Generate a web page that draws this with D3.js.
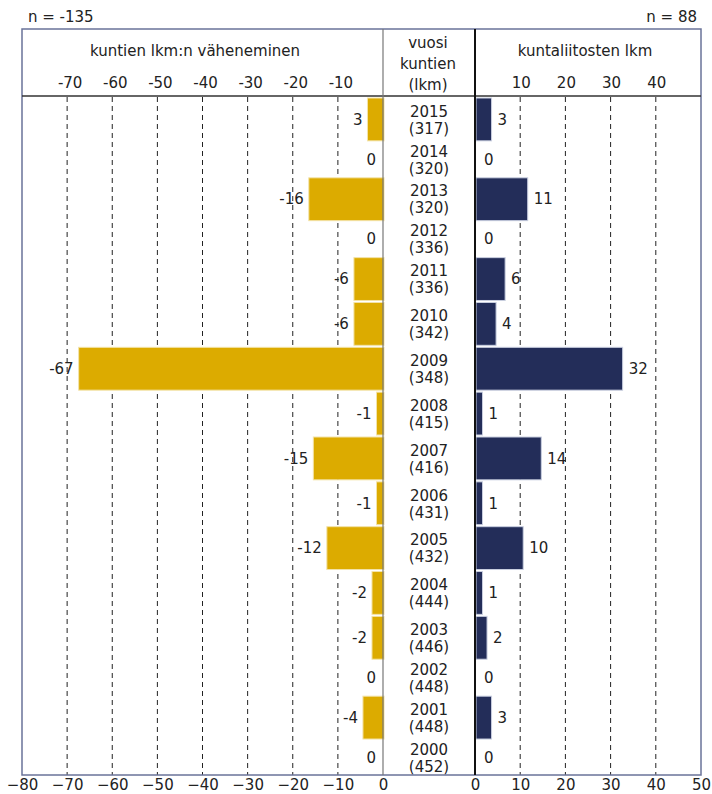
<!DOCTYPE html>
<html>
<head>
<meta charset="utf-8">
<script src="https://cdn.jsdelivr.net/npm/d3@7"></script>
<style>
  body { margin: 0; background: #fff; }
  svg text { font-family: "DejaVu Sans", "Open Sans", sans-serif; fill: #222; }
</style>
</head>
<body>
<div id="chart"></div>
<script>
// rows top to bottom
const years = [2015, 2014, 2013, 2012, 2011, 2010, 2009, 2008, 2007, 2006, 2005, 2004, 2003, 2002, 2001, 2000];
const municipalities = [317, 320, 320, 336, 336, 342, 348, 415, 416, 431, 432, 444, 446, 448, 448, 452];
const decrease = [-3, 0, -16, 0, -6, -6, -67, -1, -15, -1, -12, -2, -2, 0, -4, 0];
const decreaseLabels = ["3", "0", "-16", "0", "-6", "-6", "-67", "-1", "-15", "-1", "-12", "-2", "-2", "0", "-4", "0"];
const mergers = [3, 0, 11, 0, 6, 4, 32, 1, 14, 1, 10, 1, 2, 0, 3, 0];
const leftTicks = [-80, -70, -60, -50, -40, -30, -20, -10, 0];
const rightTicks = [0, 10, 20, 30, 40, 50];

const width = 712, height = 794;
const gold = "#dcab00", navy = "#232d59";
const frame = { left: 22, right: 701, top: 29, head: 96, bottom: 775 };
const fs = "15px";

const svg = d3.select("#chart").append("svg")
    .attr("width", width)
    .attr("height", height);

const xL = d3.scaleLinear().domain([-80, 0]).range([frame.left, 383]);
const xR = d3.scaleLinear().domain([0, 50]).range([475, frame.right]);

// rows with nothing to show are a bit shorter
const rows = years.map((y, i) => ({
    year: y, count: municipalities[i], dec: decrease[i], decLabel: decreaseLabels[i], mer: mergers[i],
    w: (decrease[i] === 0 && mergers[i] === 0) ? 0.78 : 1
}));
let acc = 0;
rows.forEach(r => { r.start = acc; acc += r.w; r.end = acc; });
const y = d3.scaleLinear().domain([0, acc]).range([frame.head + 1, frame.bottom]);
const mid = r => (y(r.start) + y(r.end)) / 2;

// gridlines
svg.append("g").selectAll("line")
    .data(leftTicks.filter(t => t > -80 && t < 0))
    .join("line")
    .attr("x1", d => xL(d)).attr("x2", d => xL(d))
    .attr("y1", frame.head + 1).attr("y2", frame.bottom)
    .attr("stroke", "#222").attr("stroke-dasharray", "5,4");
svg.append("g").selectAll("line")
    .data(rightTicks.filter(t => t > 0 && t < 50))
    .join("line")
    .attr("x1", d => xR(d)).attr("x2", d => xR(d))
    .attr("y1", frame.head + 1).attr("y2", frame.bottom)
    .attr("stroke", "#222").attr("stroke-dasharray", "5,4");

// bars
svg.append("g").selectAll("rect")
    .data(rows.filter(r => r.dec !== 0))
    .join("rect")
    .attr("x", d => xL(d.dec) - 2)
    .attr("y", d => y(d.start) + 1)
    .attr("width", d => xL(0) - xL(d.dec) + 3)
    .attr("height", d => y(d.end) - y(d.start) - 2)
    .attr("fill", gold)
    .attr("stroke", "#f3e3a8").attr("stroke-width", 1);

svg.append("g").selectAll("rect")
    .data(rows.filter(r => r.mer !== 0))
    .join("rect")
    .attr("x", xR(0) + 1)
    .attr("y", d => y(d.start) + 1)
    .attr("width", d => xR(d.mer) - xR(0) + 2)
    .attr("height", d => y(d.end) - y(d.start) - 2)
    .attr("fill", navy)
    .attr("stroke", "#c9cfe0").attr("stroke-width", 1);

// value labels
svg.append("g").selectAll("text")
    .data(rows)
    .join("text")
    .attr("x", d => xL(d.dec) - 7)
    .attr("y", mid)
    .attr("dy", "0.35em")
    .attr("text-anchor", "end")
    .style("font-size", fs)
    .text(d => d.decLabel);

svg.append("g").selectAll("text")
    .data(rows)
    .join("text")
    .attr("x", d => xR(d.mer) + 9)
    .attr("y", mid)
    .attr("dy", "0.35em")
    .style("font-size", fs)
    .text(d => d.mer);

// year + municipality count
const cx = (383 + 475) / 2;
const yearLabel = svg.append("g").selectAll("text")
    .data(rows)
    .join("text")
    .attr("x", cx)
    .attr("text-anchor", "middle")
    .style("font-size", fs);
yearLabel.append("tspan")
    .attr("x", cx)
    .attr("y", d => mid(d) - 8)
    .attr("dy", "0.35em")
    .text(d => d.year);
yearLabel.append("tspan")
    .attr("x", cx)
    .attr("y", d => mid(d) + 9)
    .attr("dy", "0.35em")
    .text(d => `(${d.count})`);

// frame and dividers
svg.append("rect")
    .attr("x", frame.left).attr("y", frame.top)
    .attr("width", frame.right - frame.left).attr("height", frame.bottom - frame.top)
    .attr("fill", "none").attr("stroke", "#6a7399").attr("stroke-width", 1.5);
svg.append("line")
    .attr("x1", frame.left).attr("x2", frame.right)
    .attr("y1", frame.head).attr("y2", frame.head)
    .attr("stroke", "#333").attr("stroke-width", 1.5);
svg.append("line")
    .attr("x1", xL(0)).attr("x2", xL(0))
    .attr("y1", frame.top).attr("y2", frame.bottom)
    .attr("stroke", "#777").attr("stroke-width", 1.2);
svg.append("line")
    .attr("x1", xR(0)).attr("x2", xR(0))
    .attr("y1", frame.top).attr("y2", frame.bottom)
    .attr("stroke", "#111").attr("stroke-width", 2);

// top tick labels
svg.append("g").selectAll("text")
    .data(leftTicks.filter(t => t > -80 && t < 0))
    .join("text")
    .attr("x", d => xL(d) + 3).attr("y", 88)
    .attr("text-anchor", "middle")
    .style("font-size", fs)
    .text(d => d);
svg.append("g").selectAll("text")
    .data(rightTicks.filter(t => t > 0 && t < 50))
    .join("text")
    .attr("x", d => xR(d) + 1).attr("y", 88)
    .attr("text-anchor", "middle")
    .style("font-size", fs)
    .text(d => d);

// bottom axes
const axL = svg.append("g")
    .attr("transform", `translate(0,${frame.bottom})`)
    .call(d3.axisBottom(xL).tickValues(leftTicks).tickSize(0).tickPadding(4));
const axR = svg.append("g")
    .attr("transform", `translate(0,${frame.bottom})`)
    .call(d3.axisBottom(xR).tickValues(rightTicks).tickSize(0).tickPadding(4));
[axL, axR].forEach(a => {
    a.select(".domain").remove();
    a.selectAll("text").style("font-size", fs)
        .style("font-family", "'DejaVu Sans', 'Open Sans', sans-serif").attr("fill", "#222");
});

// headings
svg.append("text").attr("x", 195).attr("y", 56).attr("text-anchor", "middle")
    .style("font-size", fs).text("kuntien lkm:n väheneminen");
svg.append("text").attr("x", 585).attr("y", 56).attr("text-anchor", "middle")
    .style("font-size", fs).text("kuntaliitosten lkm");
svg.append("g").selectAll("text")
    .data(["vuosi", "kuntien", "(lkm)"])
    .join("text")
    .attr("x", 428)
    .attr("y", (d, i) => 48 + i * 21)
    .attr("text-anchor", "middle")
    .style("font-size", fs)
    .text(d => d);

svg.append("text").attr("x", 28).attr("y", 22).style("font-size", fs).text("n = -135");
svg.append("text").attr("x", 697).attr("y", 22).attr("text-anchor", "end")
    .style("font-size", fs).text("n = 88");
</script>
</body>
</html>
